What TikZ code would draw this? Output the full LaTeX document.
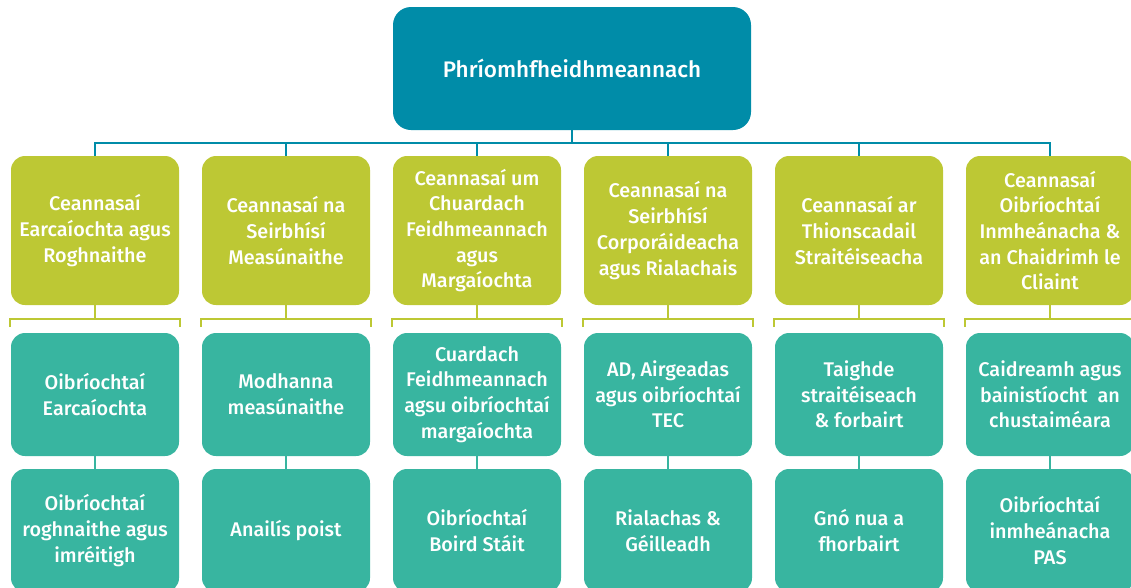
\documentclass[tikz,border=0pt]{standalone}
\usepackage{fontspec}
\setmainfont{Fira Sans}[UprightFont={* Medium}]
\definecolor{topblue}{RGB}{0,140,168}
\definecolor{headgreen}{RGB}{189,200,52}
\definecolor{subteal}{RGB}{56,181,160}
\tikzset{
  boxbase/.style={rectangle, rounded corners=14pt, text=white, align=center,
    minimum width=168pt, inner sep=2pt,
    font=\fontsize{19.8}{25.7}\selectfont},
  topbox/.style={boxbase, fill=topblue, minimum width=358pt, minimum height=123pt, rounded corners=18pt,
    font=\fontsize{22.5}{27}\selectfont},
  headbox/.style={boxbase, fill=headgreen, minimum height=149pt},
  subbox/.style={boxbase, fill=subteal, minimum height=123pt},
  bluelink/.style={draw=topblue, line width=2.8pt},
  greenlink/.style={draw=headgreen, line width=2.6pt},
  teallink/.style={draw=subteal, line width=2.8pt}
}
\begin{document}
\begin{tikzpicture}[x=1pt,y=-1pt]
\useasboundingbox (0,0) rectangle (1131,587);
\clip (0,0) rectangle (1131,587);
\node[topbox] (ceo) at (572,68.5) {Phríomhfheidhmeannach};
\coordinate (hub) at (572,143);
\foreach \i/\x/\h/\s/\t in {
 1/95/{Ceannasaí\\Earcaíochta agus\\Roghnaithe}/{Oibríochtaí\\Earcaíochta}/{Oibríochtaí\\roghnaithe agus\\imréitigh},
 2/286/{Ceannasaí na\\Seirbhísí\\Measúnaithe}/{Modhanna\\measúnaithe}/{Anailís poist},
 3/477/{Ceannasaí um\\Chuardach\\Feidhmeannach\\agus\\Margaíochta}/{Cuardach\\Feidhmeannach\\agsu oibríochtaí\\margaíochta}/{Oibríochtaí\\Boird Stáit},
 4/668/{Ceannasaí na\\Seirbhísí\\Corporáideacha\\agus Rialachais}/{AD, Airgeadas\\agus oibríochtaí\\TEC}/{Rialachas \&\\Géilleadh},
 5/859/{Ceannasaí ar\\Thionscadail\\Straitéiseacha}/{Taighde\\straitéiseach\\\& forbairt}/{Gnó nua a\\fhorbairt},
 6/1050/{Ceannasaí\\Oibríochtaí\\Inmheánacha \&\\an Chaidrimh le\\Cliaint}/{Caidreamh agus\\bainistíocht\ \ an\\chustaiméara}/{Oibríochtaí\\inmheánacha\\PAS}}{
  \node[headbox] (h\i) at (\x,230.5) {\h};
  \node[subbox] (s\i) at (\x,394.5) {\s};
  \node[subbox] (t\i) at (\x,530.5) {\t};
  \coordinate (hj\i) at (\x,143);
  \coordinate (bj\i) at (\x,319);
  \coordinate (bl\i) at (\x-85,319);
  \coordinate (br\i) at (\x+85,319);
  \coordinate (blt\i) at (\x-85,327);
  \coordinate (brt\i) at (\x+85,327);
  \draw[bluelink] (hj\i) -- (h\i.north);
  \draw[greenlink] (h\i.south) -- (bj\i);
  \draw[greenlink] (blt\i) -- (bl\i) -- (br\i) -- (brt\i);
  \draw[teallink] (s\i.south) -- (t\i.north);
}
\draw[bluelink] (ceo.south) -- (hub);
\draw[bluelink, line cap=rect] (hj1) -- (hj6);
\end{tikzpicture}
\end{document}
